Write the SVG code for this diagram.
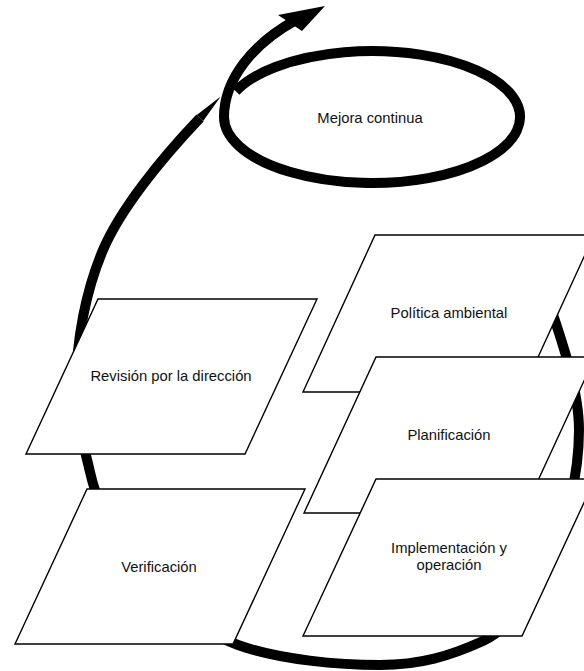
<svg xmlns="http://www.w3.org/2000/svg" width="584" height="671" viewBox="0 0 584 671">
<style>
.loop{fill:none;stroke:#000;stroke-width:10;stroke-linecap:butt;stroke-linejoin:round}
.box{fill:#fff;stroke:#000;stroke-width:1.4;stroke-linejoin:miter}
.lbl{font-family:"Liberation Sans",Arial,sans-serif;font-size:14.8px;fill:#111;text-anchor:middle}
</style>
<rect width="584" height="671" fill="#fff"/>
<g id="connectors">
<path class="loop" d="M540,275 C552,315 579,380 579,430 C579,520 530,620 483,641 C450,656 420,665 380,665 C340,665 280,660 238,645 C190,628 110,560 90,472 C84,446 76,420 76,390 C76,340 86,290 103,250 C120,210 160,160 200,118"/>
<polygon points="203.2,121.1 196.8,114.9 220.7,96.4" fill="#000"/>
</g>
<g id="mejora-continua">
<path class="loop" d="M235.8,91.2 A148,66 0 1 1 224,117 C224,80 252,44 296,20"/>
<polygon points="325,6 278,15 302,31" fill="#000"/>
<text class="lbl" x="370" y="123">Mejora continua</text>
</g>
<g id="revision">
<polygon class="box" points="98,299 317,299 245,454 26,454"/>
<text class="lbl" x="171" y="381">Revisión por la dirección</text>
</g>
<g id="verificacion">
<polygon class="box" points="87,489 305,489 233,644 15,644"/>
<text class="lbl" x="159" y="572">Verificación</text>
</g>
<g id="politica">
<polygon class="box" points="375,235 594,235 522,392 303,392"/>
<text class="lbl" x="449" y="318">Política ambiental</text>
</g>
<g id="planificacion">
<polygon class="box" points="376,357 595,357 523,513 304,513"/>
<text class="lbl" x="449" y="440">Planificación</text>
</g>
<g id="implementacion">
<polygon class="box" points="376,479 595,479 522,636 303,636"/>
<text class="lbl" x="449" y="553">Implementación y</text>
<text class="lbl" x="449" y="570">operación</text>
</g>
</svg>
